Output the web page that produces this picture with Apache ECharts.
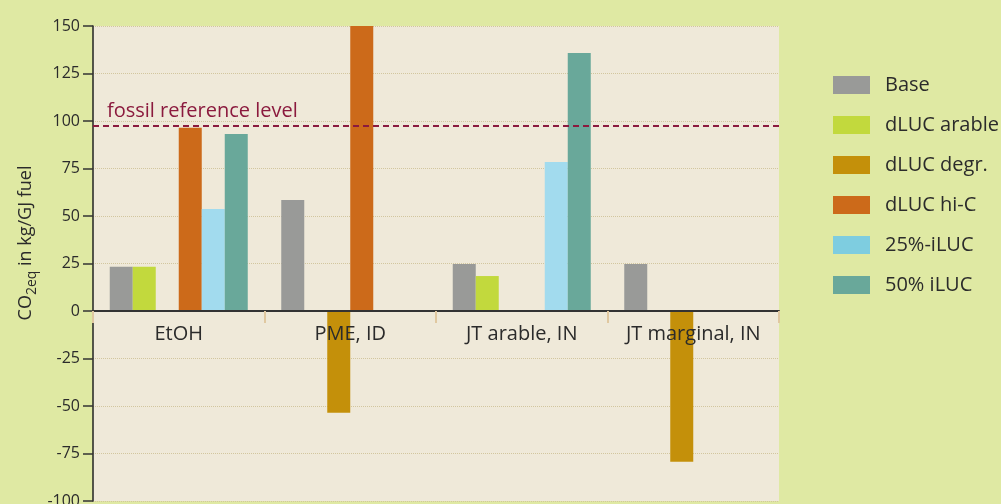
<!DOCTYPE html>
<html>
<head>
<meta charset="utf-8">
<script src="https://cdn.jsdelivr.net/npm/echarts@6/dist/echarts.min.js"></script>
<style>
html,body{margin:0;padding:0;background:#dfe9a3;}
#c{width:1001px;height:504px;}
</style>
</head>
<body>
<div id="c"></div>
<script>
const categories = ['EtOH', 'PME, ID', 'JT arable, IN', 'JT marginal, IN'];
const seriesNames = ['Base', 'dLUC arable', 'dLUC degr.', 'dLUC hi-C', '25%-iLUC', '50% iLUC'];
const base = [23.3, 58.4, 24.7, 24.7];
const dlucArable = [23.3, null, 18.4, null];
const dlucDegr = [null, -53.5, null, -79.3];
const dlucHiC = [96.5, 150, null, null];
const iluc25 = [53.7, null, 78.4, null];
const iluc50 = [93.2, null, 135.8, null];
const fossilReference = 97.5;
const fossilLabel = 'fossil reference level';
const yMin = -100, yMax = 150, yStep = 25;

const seriesValues = [base, dlucArable, dlucDegr, dlucHiC, iluc25, iluc50];
const barColors = ['#999a98', '#c2d93d', '#c4900a', '#cc6a1a', '#a2dbee', '#69a89a'];
const legendColors = ['#999a98', '#c2d93d', '#c4900a', '#cc6a1a', '#7ecde0', '#69a89a'];
const FONT = 'Open Sans';
const TXT = '#2b2b2b';

const GRID = { left: 93, right: 222, top: 26, bottom: 3 };
const H = 504;
const plotH = H - GRID.top - GRID.bottom;
// offset of x axis from grid bottom so it sits at y = 0
const zeroOffset = -plotH * (0 - yMin) / (yMax - yMin);

const series = seriesNames.map((name, i) => {
  const s = {
    name: name,
    type: 'bar',
    data: seriesValues[i],
    barWidth: 23,
    barGap: '0%',
    z: 2,
    itemStyle: { color: barColors[i] },
    emphasis: { disabled: true }
  };
  if (i === 0) {
    s.markLine = {
      silent: true,
      symbol: ['none', 'none'],
      lineStyle: { color: '#8b1a3e', type: [6, 4], width: 2 },
      label: {
        show: true,
        position: 'insideStartTop',
        formatter: fossilLabel,
        color: '#8b1a3e',
        fontFamily: FONT,
        fontSize: 20,
        distance: [14, 4]
      },
      data: [{ yAxis: fossilReference }]
    };
  }
  return s;
});

const chart = echarts.init(document.getElementById('c'), null, { renderer: 'canvas' });
chart.setOption({
  backgroundColor: '#dfe9a3',
  animation: false,
  textStyle: { fontFamily: FONT },
  grid: {
    left: GRID.left, right: GRID.right, top: GRID.top, bottom: GRID.bottom,
    outerBoundsMode: 'none',
    containLabel: false,
    show: true, backgroundColor: '#efe9d9', borderWidth: 0
  },
  legend: {
    orient: 'vertical',
    left: 833, top: 75,
    padding: 0,
    itemWidth: 37, itemHeight: 18, itemGap: 20,
    icon: 'rect',
    selectedMode: false,
    textStyle: { fontFamily: FONT, fontSize: 20, color: TXT, padding: [0, 0, 0, 10] },
    data: seriesNames.map((n, i) => ({ name: n, itemStyle: { color: legendColors[i] } }))
  },
  xAxis: {
    type: 'category',
    data: categories,
    position: 'bottom',
    offset: zeroOffset,
    z: 10,
    axisLine: { onZero: false, lineStyle: { color: '#333', width: 2 } },
    axisTick: { show: true, interval: 0, length: 12, lineStyle: { color: '#e0c8a0', width: 2 } },
    axisLabel: { interval: 0, fontFamily: FONT, fontSize: 20, color: TXT, margin: 13 },
    splitLine: { show: false }
  },
  yAxis: {
    type: 'value',
    min: yMin, max: yMax, interval: yStep,
    axisLine: { show: true, onZero: false, lineStyle: { color: '#222', width: 1.5 } },
    axisTick: { show: true, length: 10, lineStyle: { color: '#333', width: 1.5 } },
    axisLabel: { fontFamily: FONT, fontSize: 16, color: TXT, margin: 13 },
    splitLine: { show: true, lineStyle: { color: '#d2c69e', type: 'dotted', width: 1 } }
  },
  graphic: [{
    type: 'text',
    x: 28, y: 243,
    rotation: Math.PI / 2,
    style: {
      text: '{a|CO}{s|2eq}{a| in kg/GJ fuel}',
      align: 'center',
      verticalAlign: 'middle',
      fill: TXT,
      rich: {
        a: { fontFamily: FONT, fontSize: 18, color: TXT, lineHeight: 23, verticalAlign: 'top' },
        s: { fontFamily: FONT, fontSize: 14, color: TXT, lineHeight: 23, verticalAlign: 'bottom' }
      }
    }
  }],
  series: series
});
</script>
</body>
</html>
